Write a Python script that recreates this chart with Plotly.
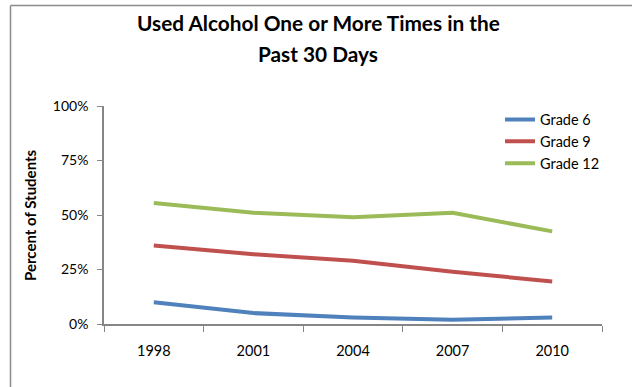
import plotly.graph_objects as go

years = ["1998", "2001", "2004", "2007", "2010"]
grade6 = [0.10, 0.05, 0.03, 0.02, 0.03]
grade9 = [0.36, 0.32, 0.29, 0.24, 0.195]
grade12 = [0.555, 0.51, 0.49, 0.51, 0.425]

series = [
    ("Grade 6", grade6, "#4F81BD"),
    ("Grade 9", grade9, "#C0504D"),
    ("Grade 12", grade12, "#9BBB59"),
]

FONT = "Lato"
L, R, T, B = 104, 30, 106, 63
W, H = 632, 387
PW, PH = W - L - R, H - T - B


def px_x(px):
    return (px - L) / PW


def px_y(py):
    return (H - B - py) / PH


fig = go.Figure()
for name, vals, color in series:
    fig.add_trace(go.Scatter(
        x=years, y=vals, name=name, mode="lines",
        line=dict(color=color, width=4),
    ))

axis_color = "#868686"
fig.update_layout(
    width=W, height=H,
    margin=dict(l=L, r=R, t=T, b=B),
    paper_bgcolor="white", plot_bgcolor="white",
    font=dict(family=FONT, size=14, color="#000000"),
    showlegend=True,
    legend=dict(
        x=px_x(500), y=px_y(103.5), xanchor="left", yanchor="top",
        font=dict(family=FONT, size=14.5, color="#000000"),
        bgcolor="rgba(0,0,0,0)", tracegroupgap=0, itemwidth=30,
    ),
    xaxis=dict(
        type="category", range=[-0.5, 4.5],
        tickson="boundaries", ticks="outside", ticklen=6, tickcolor=axis_color,
        showline=True, linecolor=axis_color, linewidth=1.5,
        showgrid=False, ticklabelstandoff=13,
        tickfont=dict(family=FONT, size=14.5, color="#000000"),
    ),
    yaxis=dict(
        range=[0, 1], dtick=0.25, tickformat=".0%",
        ticks="outside", ticklen=5, tickcolor=axis_color,
        showline=True, linecolor=axis_color, linewidth=1.5,
        showgrid=False, zeroline=False, ticklabelstandoff=6,
        tickfont=dict(family=FONT, size=14, color="#000000"),
    ),
)

# Two-line chart title
for text, py in [("Used Alcohol One or More Times in the", 23),
                 ("Past 30 Days", 53)]:
    fig.add_annotation(
        text=f"<b>{text}</b>", xref="paper", yref="paper",
        x=px_x(318), y=px_y(py), xanchor="center", yanchor="middle",
        showarrow=False, font=dict(family=FONT, size=20.8, color="#000000"),
    )

# Rotated y-axis title
fig.add_annotation(
    text="<b>Percent of Students</b>", xref="paper", yref="paper",
    x=px_x(30), y=px_y(215), xanchor="center", yanchor="middle",
    textangle=-90, showarrow=False,
    font=dict(family=FONT, size=15, color="#000000"),
)

# Chart frame: top and left edges
frame = dict(color="#8C8C8C", width=1.5)
fig.add_shape(type="line", xref="paper", yref="paper",
              x0=px_x(10.5), y0=px_y(5.5), x1=px_x(640), y1=px_y(5.5), line=frame)
fig.add_shape(type="line", xref="paper", yref="paper",
              x0=px_x(10.5), y0=px_y(5.5), x1=px_x(10.5), y1=px_y(400), line=frame)

fig.write_html("out.html")
